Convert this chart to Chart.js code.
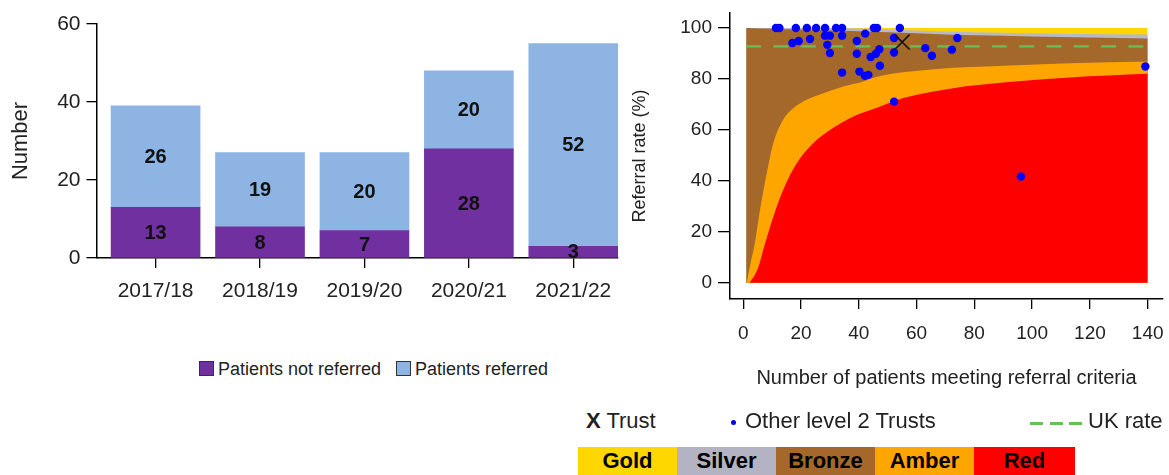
<!DOCTYPE html>
<html>
<head>
<meta charset="utf-8">
<script src="https://cdn.jsdelivr.net/npm/chart.js@4/dist/chart.umd.min.js"></script>
<style>
  html, body { margin:0; padding:0; background:#fff; }
  body { width:1169px; height:475px; position:relative; overflow:hidden; font-family:"Liberation Sans", Arial, sans-serif; color:#222; }
  canvas { position:absolute; }
  .abs { position:absolute; white-space:nowrap; }
  .lbox { position:absolute; width:13px; height:13px; border:1px solid #333; }
  .cb { position:absolute; top:447px; height:28px; font-weight:bold; font-size:22px; line-height:28px; text-align:center; color:#000; }
</style>
</head>
<body>
<canvas id="bar" width="630" height="310" style="left:0;top:0;width:630px;height:310px;"></canvas>
<canvas id="funnel" width="549" height="400" style="left:620px;top:0;width:549px;height:400px;"></canvas>

<div class="lbox" style="left:199px;top:361px;background:#7030A0;"></div>
<div class="abs" style="left:218px;top:358px;font-size:18px;line-height:22px;">Patients not referred</div>
<div class="lbox" style="left:396px;top:361px;background:#8DB4E2;"></div>
<div class="abs" style="left:415px;top:358px;font-size:18px;line-height:22px;">Patients referred</div>

<div class="abs" style="left:586px;top:407px;font-size:22px;line-height:28px;"><b>X</b> Trust</div>
<div class="abs" style="left:731px;top:420px;width:5px;height:5px;border-radius:50%;background:#0000FF;"></div>
<div class="abs" style="left:745px;top:407px;font-size:22px;line-height:28px;">Other level 2 Trusts</div>
<div class="abs" style="left:1030px;top:422px;width:13px;height:3px;background:#66C057;"></div>
<div class="abs" style="left:1050px;top:422px;width:13px;height:3px;background:#66C057;"></div>
<div class="abs" style="left:1069px;top:422px;width:13px;height:3px;background:#66C057;"></div>
<div class="abs" style="left:1088px;top:407px;font-size:22px;line-height:28px;">UK rate</div>

<div class="cb" style="left:578px;width:99px;background:#FFD700;">Gold</div>
<div class="cb" style="left:677px;width:99px;background:#B3B3C3;">Silver</div>
<div class="cb" style="left:776px;width:99px;background:#A5682A;">Bronze</div>
<div class="cb" style="left:875px;width:99px;background:#FFA500;">Amber</div>
<div class="cb" style="left:974px;width:101px;background:#FF0000;">Red</div>

<script>
// ---------- Left chart data ----------
const categories = ['2017/18', '2018/19', '2019/20', '2020/21', '2021/22'];
const notReferred = [13, 8, 7, 28, 3];
const referred = [26, 19, 20, 20, 52];
const barYTicks = [0, 20, 40, 60];

// ---------- Right chart data ----------
const ukRate = 92.8;
const trustX = [55];
const trustY = [94.5];
const otherX = [11.3, 12.5, 18.2, 22, 25.2, 28.3, 32.1, 34.2, 45.2, 46.3, 54.2,
                17, 19.2, 23.1, 28.3, 30, 34.2, 42.2, 39.3, 52.2, 29.1,
                30, 39.3, 47.1, 45.9, 44.1, 52.2, 47.3, 34.2, 40.2, 42.1, 43.3,
                52.2, 63, 65.3, 72.2, 74.1, 96.1, 139.2];
const otherY = [100, 100, 100, 100, 100, 100, 100, 100, 100, 100, 100,
                94.1, 94.9, 95.7, 97, 97, 97, 97.8, 94.9, 96.1, 93.4,
                90.2, 89.9, 91.7, 89.9, 88.6, 90.4, 85.2, 82.5, 82.9, 81.2, 81.6,
                71.1, 92.1, 89.1, 91.5, 96.1, 41.7, 84.9];
// band upper edges
const goldEdgeX = [1, 140];
const goldEdgeY = [100, 100];
const silverEdgeX = [1, 30, 40, 55, 70, 90, 110, 140];
const silverEdgeY = [100, 100, 99.8, 99.2, 98.6, 98.1, 97.8, 97.5];
const bronzeEdgeX = [1, 10, 20, 35, 50, 70, 90, 110, 140];
const bronzeEdgeY = [100, 99.7, 99.4, 98.9, 98.3, 97.5, 97.0, 96.5, 95.9];
const amberEdgeX = [1.2, 2.5, 4, 5.8, 7.9, 10.4, 13.8, 16.7, 21.9, 27.7, 34.6, 41.5, 45, 67, 90, 113, 140];
const amberEdgeY = [0, 7.6, 15.5, 28.6, 41.7, 54.8, 64, 67.9, 71.8, 74.4, 77, 79, 80.5, 83.9, 85.2, 86.2, 86.9];
const redEdgeX = [2.2, 4, 5.5, 6.9, 10.4, 13.8, 18.5, 24.2, 30, 38.1, 47, 55.4, 72.7, 90, 113, 140];
const redEdgeY = [0, 3, 7, 12.9, 25.9, 36.4, 46.9, 54.8, 60, 65.3, 69, 72.5, 76.4, 78.6, 80.6, 82];
const ukLineX = [1, 140];
const funnelXTicks = [0, 20, 40, 60, 80, 100, 120, 140];
const funnelYTicks = [0, 20, 40, 60, 80, 100];

const FAMILY = '"Liberation Sans", Arial, sans-serif';
const pts = (xs, ys) => xs.map((x, i) => ({ x: x, y: ys[i] }));
const noPad = s => { s.paddingTop = 0; s.paddingBottom = 0; s.paddingLeft = 0; s.paddingRight = 0; };

const barLabelPlugin = {
  id: 'barLabels',
  afterDatasetsDraw(chart) {
    const ctx = chart.ctx;
    ctx.save();
    ctx.font = 'bold 20px ' + FAMILY;
    ctx.fillStyle = '#111';
    ctx.textAlign = 'center';
    ctx.textBaseline = 'middle';
    chart.data.datasets.forEach((ds, di) => {
      const meta = chart.getDatasetMeta(di);
      meta.data.forEach((el, i) => {
        const v = ds.data[i].y;
        ctx.fillText(String(v), el.x, (el.y + el.base) / 2 + 1);
      });
    });
    ctx.restore();
  }
};

new Chart(document.getElementById('bar'), {
  type: 'bar',
  data: {
    datasets: [
      { label: 'Patients not referred', data: pts(categories.map((c, i) => i), notReferred), backgroundColor: '#7030A0', barThickness: 89 },
      { label: 'Patients referred', data: pts(categories.map((c, i) => i), referred), backgroundColor: '#8DB4E2', barThickness: 89 }
    ]
  },
  options: {
    responsive: false, animation: false, events: [],
    layout: { autoPadding: false, padding: { left: 0, right: 12, top: 24, bottom: 0 } },
    plugins: { legend: { display: false }, tooltip: { enabled: false } },
    scales: {
      x: {
        type: 'linear', stacked: true, min: -0.561, max: 4.428, offset: false,
        grid: { offset: false, drawOnChartArea: false, drawTicks: true, tickLength: 10, color: '#000', lineWidth: 1.3 },
        border: { display: true, color: '#000', width: 1.5 },
        ticks: { stepSize: 1, includeBounds: false, autoSkip: false, maxRotation: 0, color: '#222', padding: 11,
                 font: { size: 21, family: FAMILY }, callback: v => (categories[v] !== undefined ? categories[v] : '') },
        afterFit: s => { s.height = 52; noPad(s); }
      },
      y: {
        stacked: true, min: barYTicks[0], max: barYTicks[barYTicks.length - 1],
        grid: { drawOnChartArea: false, drawTicks: true, tickLength: 10.5, color: '#000', lineWidth: 1.3 },
        border: { display: true, color: '#000', width: 1.5 },
        ticks: { stepSize: 20, color: '#222', padding: 6, font: { size: 21, family: FAMILY } },
        title: { display: true, text: 'Number', color: '#222', font: { size: 22, family: FAMILY }, padding: { top: 8, bottom: 0 } },
        afterFit: s => { s.width = 97; noPad(s); }
      }
    }
  },
  plugins: [barLabelPlugin]
});

const area = (xs, ys, color, order) => ({
  type: 'line', data: pts(xs, ys), fill: 'origin', backgroundColor: color, borderWidth: 0,
  borderColor: color, pointRadius: 0, cubicInterpolationMode: 'monotone', order: order
});

new Chart(document.getElementById('funnel'), {
  type: 'scatter',
  data: {
    datasets: [
      area(goldEdgeX, goldEdgeY, '#FFD700', 10),
      area(silverEdgeX, silverEdgeY, '#B8B8C6', 9),
      area(bronzeEdgeX, bronzeEdgeY, '#A3682A', 8),
      area(amberEdgeX, amberEdgeY, '#FFA500', 7),
      area(redEdgeX, redEdgeY, '#FF0000', 6),
      { type: 'line', data: pts(ukLineX, ukLineX.map(() => ukRate)), borderColor: '#66C057', borderWidth: 2.2,
        borderDash: [15, 12.3], pointRadius: 0, fill: false, order: 3 },
      { type: 'scatter', data: pts(otherX, otherY), pointRadius: 4.2, backgroundColor: '#0000FF', borderWidth: 0, order: 2 },
      { type: 'scatter', data: pts(trustX, trustY), pointStyle: 'crossRot', pointRadius: 10.5, borderColor: '#111', borderWidth: 1.6, order: 1 }
    ]
  },
  options: {
    responsive: false, animation: false, events: [],
    layout: { autoPadding: false, padding: { left: 0, right: 6, top: 13, bottom: 0 } },
    plugins: { legend: { display: false }, tooltip: { enabled: false } },
    scales: {
      x: {
        type: 'linear', min: -4.6, max: 145.3,
        grid: { drawOnChartArea: false, drawTicks: true, tickLength: 10, color: '#000', lineWidth: 1.3 },
        border: { display: true, color: '#000', width: 1.5 },
        ticks: { stepSize: 20, includeBounds: false, maxRotation: 0, color: '#222', padding: 13, font: { size: 19, family: FAMILY },
                 callback: v => (funnelXTicks.includes(v) ? String(v) : '') },
        title: { display: true, text: 'Number of patients meeting referral criteria', color: '#222', font: { size: 20, family: FAMILY }, padding: { top: 0, bottom: 10 } },
        afterFit: s => { s.height = 101; noPad(s); }
      },
      y: {
        type: 'linear', min: -6.4, max: 105.9,
        grid: { drawOnChartArea: false, drawTicks: true, tickLength: 12, color: '#000', lineWidth: 1.3 },
        border: { display: true, color: '#000', width: 1.5 },
        ticks: { stepSize: 20, includeBounds: false, color: '#222', padding: 6, font: { size: 19, family: FAMILY },
                 callback: v => (funnelYTicks.includes(v) ? String(v) : '') },
        title: { display: true, text: 'Referral rate (%)', color: '#222', font: { size: 18, family: FAMILY }, padding: { top: 9.5, bottom: 0 } },
        afterFit: s => { s.width = 110; noPad(s); }
      }
    }
  }
});
</script>
</body>
</html>
